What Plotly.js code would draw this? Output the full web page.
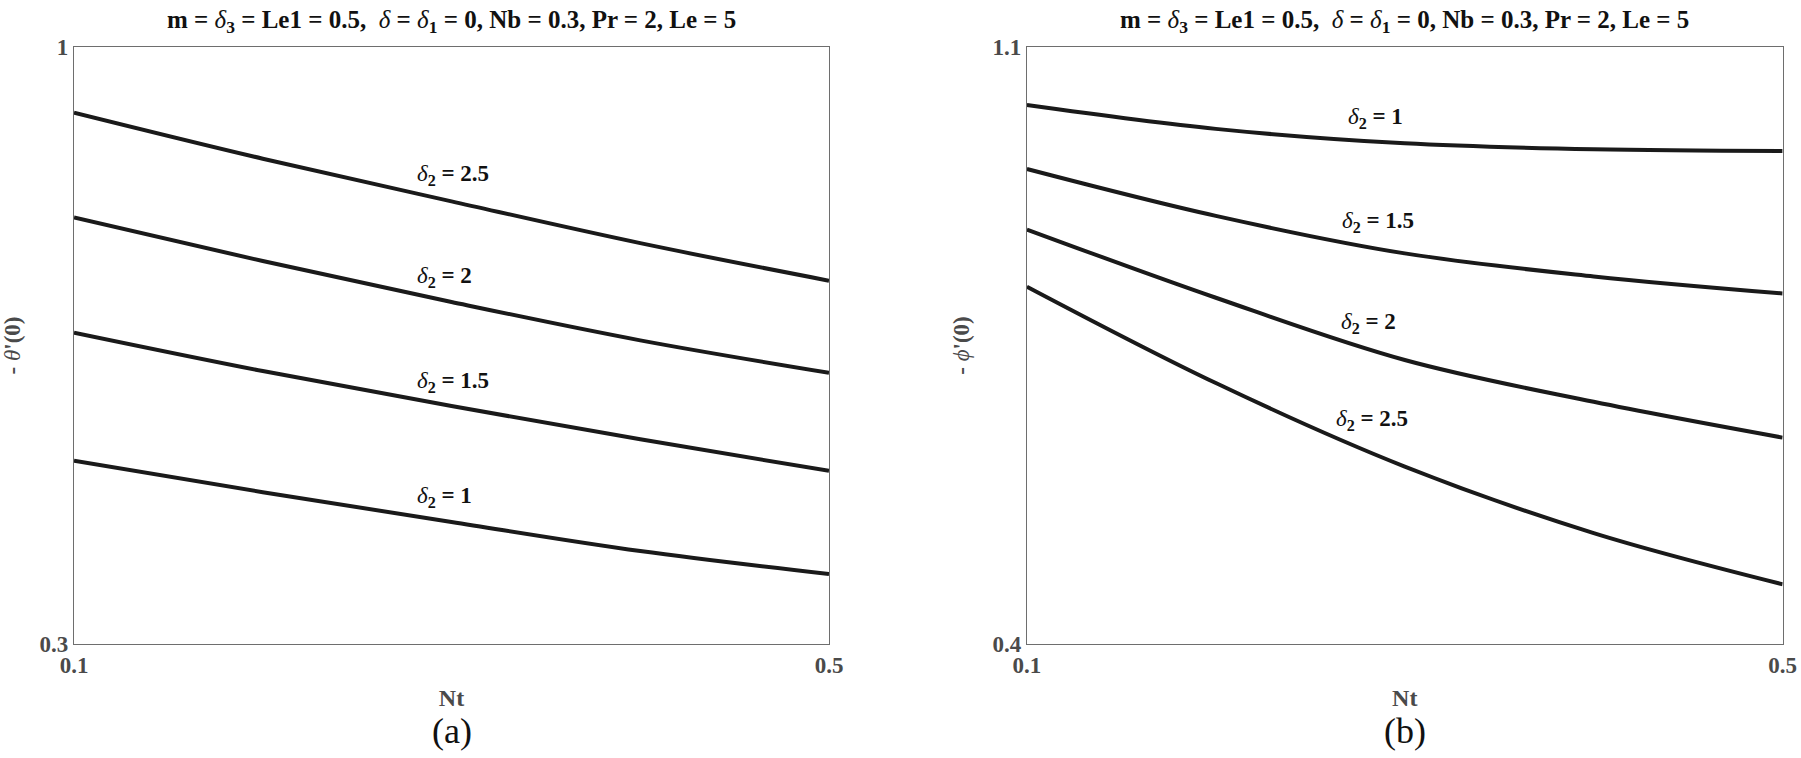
<!DOCTYPE html>
<html>
<head>
<meta charset="utf-8">
<script src="https://cdn.plot.ly/plotly-3.0.1.min.js"></script>
<style>
  html, body { margin: 0; padding: 0; background: #fff; }
  #chart { width: 1801px; height: 758px; }
</style>
</head>
<body>
<div id="chart"></div>
<script>
// Nt values shared by both panels
var nt = [0.1, 0.2, 0.3, 0.4, 0.5];

// (a) -theta'(0) for delta2 = 1, 1.5, 2, 2.5
var theta_d10 = [0.515, 0.478, 0.443, 0.409, 0.382];
var theta_d15 = [0.665, 0.620, 0.579, 0.540, 0.503];
var theta_d20 = [0.800, 0.749, 0.701, 0.656, 0.618];
var theta_d25 = [0.923, 0.869, 0.819, 0.770, 0.726];

// (b) -phi'(0) for delta2 = 1, 1.5, 2, 2.5
var phi_d10 = [1.032, 1.004, 0.987, 0.980, 0.978];
var phi_d15 = [0.957, 0.902, 0.858, 0.831, 0.811];
var phi_d20 = [0.886, 0.806, 0.733, 0.684, 0.642];
var phi_d25 = [0.819, 0.706, 0.608, 0.530, 0.470];

var d2_labels = ["1", "1.5", "2", "2.5"];

var serif = "Liberation Serif, Times New Roman, serif";
var grey = "#4a4a4a";

var mkLine = function (y, xa, ya) {
  return {
    x: nt,
    y: y,
    xaxis: xa,
    yaxis: ya,
    mode: "lines",
    type: "scatter",
    line: { color: "#1a1a1a", width: 4, shape: "spline", smoothing: 1 },
    showlegend: false,
    hoverinfo: "skip",
  };
};

var data = [
  mkLine(theta_d10, "x", "y"),
  mkLine(theta_d15, "x", "y"),
  mkLine(theta_d20, "x", "y"),
  mkLine(theta_d25, "x", "y"),
  mkLine(phi_d10, "x2", "y2"),
  mkLine(phi_d15, "x2", "y2"),
  mkLine(phi_d20, "x2", "y2"),
  mkLine(phi_d25, "x2", "y2"),
];

var lbl = function (txt) {
  return "<i>δ</i><b><sub>2</sub> = " + txt + "</b>";
};

// curve labels: [xref, yref, x, y, text]
var labelPos = [
  ["x", "y", 0.2807, 0.4724, lbl(d2_labels[0])],
  ["x", "y", 0.2807, 0.607, lbl(d2_labels[1])],
  ["x", "y", 0.2807, 0.730, lbl(d2_labels[2])],
  ["x", "y", 0.2807, 0.850, lbl(d2_labels[3])],
  ["x2", "y2", 0.2689, 1.0168, lbl(d2_labels[0])],
  ["x2", "y2", 0.2657, 0.8952, lbl(d2_labels[1])],
  ["x2", "y2", 0.2652, 0.7764, lbl(d2_labels[2])],
  ["x2", "y2", 0.2625, 0.6627, lbl(d2_labels[3])],
];

var annotations = labelPos.map(function (p) {
  return {
    xref: p[0],
    yref: p[1],
    x: p[2],
    y: p[3],
    text: p[4],
    showarrow: false,
    xanchor: "left",
    yanchor: "middle",
    font: { family: serif, size: 23, color: "#111" },
  };
});

var topTitle =
  "<b>m = </b><i>δ</i><b><sub>3</sub> = Le1 = 0.5,  </b><i>δ</i><b> = </b><i>δ</i><b><sub>1</sub> = 0, Nb = 0.3, Pr = 2, Le = 5</b>";

[
  [0.2507, "(a)"],
  [0.7800, "(b)"],
].forEach(function (p) {
  annotations.push({
    xref: "paper",
    yref: "paper",
    x: p[0],
    y: 0.972,
    text: topTitle,
    showarrow: false,
    xanchor: "center",
    yanchor: "middle",
    font: { family: serif, size: 25, color: "#111" },
  });
  annotations.push({
    xref: "paper",
    yref: "paper",
    x: p[0],
    y: 0.035,
    text: p[1],
    showarrow: false,
    xanchor: "center",
    yanchor: "middle",
    font: { family: serif, size: 36, color: "#111" },
  });
});

var axisBase = {
  showline: true,
  mirror: true,
  linecolor: "#6e6e6e",
  linewidth: 1.2,
  showgrid: false,
  zeroline: false,
  ticks: "",
  tickfont: { family: serif, size: 23, color: grey, weight: "bold" },
};

var xa = function (domain, anchor) {
  return Object.assign({}, axisBase, {
    domain: domain,
    anchor: anchor,
    range: [0.1, 0.5],
    tickvals: [0.1, 0.5],
    ticktext: ["0.1", "0.5"],
    title: {
      text: "<b>Nt</b>",
      font: { family: serif, size: 24, color: grey },
      standoff: 12,
    },
  });
};

var ya = function (anchor, range, ttl) {
  return Object.assign({}, axisBase, {
    domain: [0.1504, 0.938],
    anchor: anchor,
    range: range,
    tickvals: range,
    ticktext: range.map(String),
    title: {
      text: ttl,
      font: { family: serif, size: 23, color: grey },
      standoff: 16,
    },
  });
};

var layout = {
  width: 1801,
  height: 758,
  margin: { l: 0, r: 0, t: 0, b: 0 },
  paper_bgcolor: "#fff",
  plot_bgcolor: "#fff",
  xaxis: xa([0.0411, 0.4603], "y"),
  yaxis: ya("x", [0.3, 1], "<b>- </b><i>θ</i><b>'(0)</b>"),
  xaxis2: xa([0.5702, 0.9898], "y2"),
  yaxis2: ya("x2", [0.4, 1.1], "<b>- </b><i>ϕ</i><b>'(0)</b>"),
  annotations: annotations,
};

Plotly.newPlot("chart", data, layout, { displayModeBar: false });
</script>
</body>
</html>
